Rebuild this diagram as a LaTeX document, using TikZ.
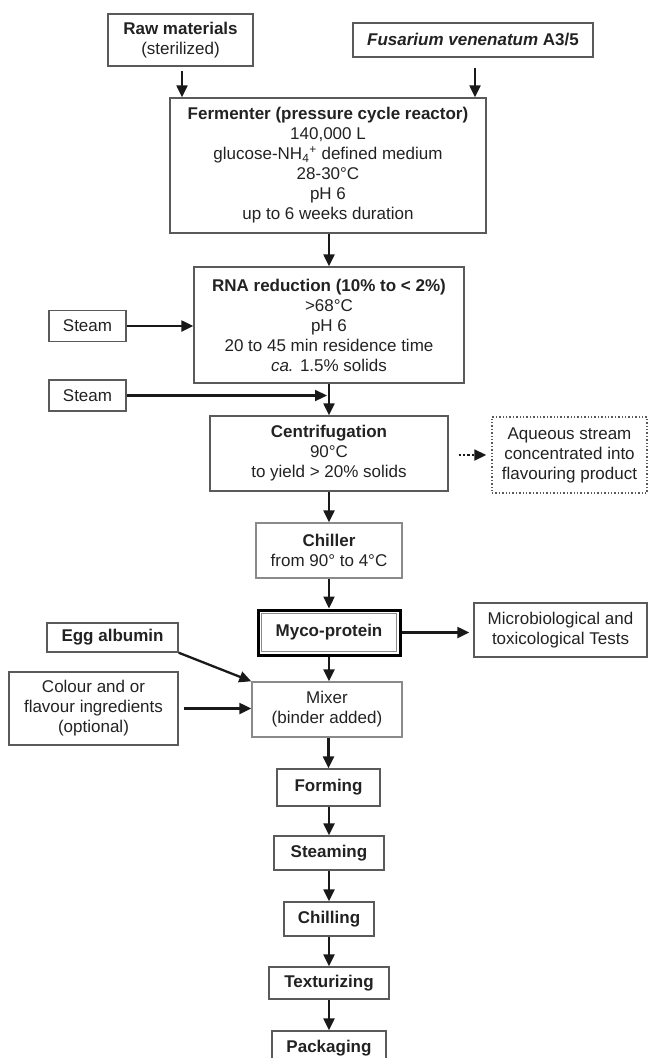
\documentclass[tikz,border=0pt]{standalone}
\usepackage{fontspec}
\setmainfont{Liberation Sans}
\usetikzlibrary{arrows.meta}
\definecolor{txt}{HTML}{222222}
\definecolor{brd}{HTML}{5A5A5A}
\definecolor{brdl}{HTML}{8A8A8A}
\tikzset{
  box/.style={draw=brd, line width=1.4pt, rectangle, align=center, inner sep=0pt,
    text=txt, font=\fontsize{17}{20}\selectfont},
  lbox/.style={box, draw=brdl},
  dbox/.style={box, draw=brd, dotted, line width=1.4pt},
  arr/.style={draw=black!90, line width=2.3pt, -{Triangle[length=12pt,width=11pt]}},
  darr/.style={arr, dotted, line width=1.8pt},
}
\begin{document}
\begin{tikzpicture}[x=1pt,y=-1pt]
\useasboundingbox (0,0) rectangle (651,1058);
\clip (0,0) rectangle (651,1058);

\node[box, minimum width=145, minimum height=52] (raw) at (180.5,40)
  {\textbf{Raw materials}\\(sterilized)};
\node[box, minimum width=240, minimum height=34] (fus) at (473,40)
  {\textbf{\textit{Fusarium venenatum} A3/5}};
\node[box, minimum width=316, minimum height=135] (ferm) at (328,165.5)
  {\textbf{Fermenter (pressure cycle reactor)}\\140,000 L\\glucose-NH\textsubscript{4}\textsuperscript{+} defined medium\\28-30°C\\pH 6\\up to 6 weeks duration};
\node[box, minimum width=270, minimum height=116] (rna) at (329,325)
  {\textbf{RNA reduction (10\% to < 2\%)}\\>68°C\\pH 6\\20 to 45 min residence time\\\textit{ca.} 1.5\% solids};
\node[box, minimum width=77, minimum height=31] (steam1) at (87.5,326)
  {Steam};
\node[box, minimum width=77, minimum height=31] (steam2) at (87.5,395.5)
  {Steam};
\node[box, minimum width=238, minimum height=75] (centr) at (329,453.5)
  {\textbf{Centrifugation}\\90°C\\to yield > 20\% solids};
\node[dbox, minimum width=155, minimum height=76] (aq) at (569.5,455)
  {Aqueous stream\\concentrated into\\flavouring product};
\node[lbox, minimum width=146, minimum height=55] (chiller) at (329,550.5)
  {\textbf{Chiller}\\from 90° to 4°C};
\node[box, draw=black, line width=3pt, minimum width=142, minimum height=45] (myco) at (329,632.5)
  {\textbf{Myco-protein}};
\draw[brdl, line width=1.2pt] ([shift={(5,5)}]myco.north west) rectangle ([shift={(-5,-5)}]myco.south east);
\node[box, minimum width=173, minimum height=54] (micro) at (560.5,630)
  {Microbiological and\\toxicological Tests};
\node[box, minimum width=131, minimum height=29] (egg) at (112.5,637.5)
  {\textbf{Egg albumin}};
\node[box, minimum width=169, minimum height=73] (colour) at (93.5,708.5)
  {Colour and or\\flavour ingredients\\(optional)};
\node[lbox, minimum width=150, minimum height=55] (mixer) at (327,709.5)
  {Mixer\\(binder added)};
\node[box, minimum width=103, minimum height=37] (forming) at (328.5,787.5)
  {\textbf{Forming}};
\node[box, minimum width=110, minimum height=34] (steaming) at (329,853)
  {\textbf{Steaming}};
\node[box, minimum width=90, minimum height=34] (chilling) at (329,919)
  {\textbf{Chilling}};
\node[box, minimum width=120, minimum height=32] (textur) at (329,983)
  {\textbf{Texturizing}};
\node[box, minimum width=114, minimum height=35] (pack) at (329,1048.5)
  {\textbf{Packaging}};

% connectors
\draw[arr, shorten <=4pt] ([xshift=1.5]raw.south) -- ([xshift=1.5]raw.south |- ferm.north);
\draw[arr, shorten <=10pt] ([xshift=2]fus.south) -- ([xshift=2]fus.south |- ferm.north);
\draw[arr] (ferm.south -| rna.north) -- (rna.north);
\draw[arr] (steam1.east) -- (steam1.east -| rna.west);
\draw[arr] (rna.south) -- (centr.north);
\draw[arr, shorten >=2pt] (steam2.east) -- (steam2.east -| rna.south);
\draw[darr, shorten <=10pt, shorten >=5pt] (centr.east |- aq.west) -- (aq.west);
\draw[arr] (centr.south) -- (chiller.north);
\draw[arr] (chiller.south) -- (myco.north);
\draw[arr, shorten >=4pt] (myco.east) -- (myco.east -| micro.west);
\draw[arr] (myco.south) -- (myco.south |- mixer.north);
\draw[arr] (egg.south east) -- (mixer.north west);
\draw[arr, shorten <=5pt] (colour.east) -- (colour.east -| mixer.west);
\draw[arr] (mixer.south -| forming.north) -- (forming.north);
\draw[arr] (forming.south -| steaming.north) -- (steaming.north);
\draw[arr] (steaming.south) -- (chilling.north);
\draw[arr] (chilling.south) -- (textur.north);
\draw[arr] (textur.south) -- (pack.north);
\end{tikzpicture}
\end{document}
